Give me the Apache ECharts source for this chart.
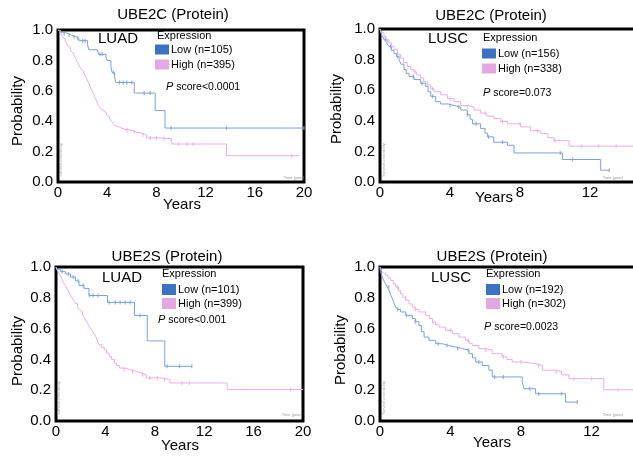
<!DOCTYPE html>
<html><head><meta charset="utf-8">
<script src="https://cdn.jsdelivr.net/npm/echarts/dist/echarts.min.js"></script>
<style>html,body{margin:0;padding:0;background:#fff}#c{width:633px;height:456px}</style>
</head><body><div id="c"></div>
<script>
// ---------- data ----------
const panelTitles = ['UBE2C (Protein)', 'UBE2C (Protein)', 'UBE2S (Protein)', 'UBE2S (Protein)'];
const cohorts = ['LUAD', 'LUSC', 'LUAD', 'LUSC'];
const lowNames = ['Low (n=105)', 'Low (n=156)', 'Low (n=101)', 'Low (n=192)'];
const highNames = ['High (n=395)', 'High (n=338)', 'High (n=399)', 'High (n=302)'];
const pScores = ['<0.0001', '=0.073', '<0.001', '=0.0023'];
const xMaxes = [20, 16, 20, 16];
const xInterval = 4;
const yInterval = 0.2;

const low1 = [[0,1],[0.2,0.985],[0.5,0.975],[0.9,0.965],[1.1,0.955],[1.5,0.945],[1.7,0.93],[2.4,0.905],[2.5,0.87],[3.2,0.86],[3.3,0.84],[3.9,0.82],[4.0,0.80],[4.3,0.76],[4.4,0.72],[4.6,0.69],[4.7,0.655],[6.2,0.585],[7.9,0.47],[8.7,0.355],[20,0.355]];
const high1 = [[0,1],[0.1,0.99],[0.2,0.98],[0.3,0.965],[0.4,0.95],[0.5,0.94],[0.6,0.925],[0.7,0.91],[0.8,0.895],[0.9,0.885],[1.0,0.87],[1.1,0.855],[1.2,0.845],[1.3,0.83],[1.4,0.815],[1.5,0.8],[1.6,0.785],[1.7,0.77],[1.8,0.755],[1.9,0.74],[2.0,0.73],[2.1,0.715],[2.2,0.7],[2.3,0.685],[2.4,0.665],[2.5,0.65],[2.6,0.63],[2.7,0.61],[2.8,0.595],[2.9,0.575],[3.0,0.555],[3.1,0.54],[3.2,0.52],[3.3,0.505],[3.4,0.49],[3.55,0.475],[3.7,0.465],[3.85,0.455],[4.0,0.44],[4.1,0.43],[4.2,0.415],[4.35,0.4],[4.5,0.385],[4.6,0.37],[4.75,0.36],[5.0,0.35],[5.3,0.345],[5.6,0.34],[6.0,0.33],[6.3,0.32],[6.9,0.31],[7.2,0.29],[8.3,0.285],[9.2,0.265],[9.3,0.25],[13.7,0.173],[19.6,0.173]];
const low2 = [[0,1],[0.04,0.975],[0.15,0.95],[0.23,0.93],[0.4,0.905],[0.51,0.885],[0.65,0.86],[0.8,0.84],[0.95,0.82],[1.09,0.80],[1.2,0.77],[1.37,0.735],[1.5,0.71],[1.66,0.69],[1.94,0.67],[2.32,0.645],[2.61,0.625],[2.75,0.59],[2.9,0.56],[3.18,0.525],[3.47,0.51],[3.9,0.5],[4.23,0.49],[4.61,0.47],[4.99,0.44],[5.15,0.41],[5.28,0.38],[5.75,0.35],[6.0,0.32],[6.13,0.295],[6.5,0.26],[7.28,0.24],[7.66,0.19],[10.42,0.147],[12.61,0.077],[13.1,0.077]];
const high2 = [[0,1],[0.1,0.975],[0.23,0.95],[0.35,0.93],[0.51,0.91],[0.65,0.885],[0.8,0.865],[1.0,0.835],[1.18,0.81],[1.35,0.78],[1.56,0.755],[1.75,0.735],[1.94,0.72],[2.1,0.7],[2.32,0.68],[2.5,0.655],[2.7,0.635],[2.9,0.61],[3.09,0.59],[3.47,0.57],[3.85,0.545],[4.23,0.525],[4.61,0.5],[4.99,0.49],[5.37,0.47],[5.75,0.45],[6.1,0.43],[6.51,0.415],[6.9,0.395],[7.28,0.38],[8.04,0.36],[8.61,0.335],[9.18,0.317],[9.6,0.29],[9.94,0.27],[10.8,0.234],[15.5,0.234]];
const low3 = [[0,1],[0.05,0.985],[0.35,0.97],[0.76,0.955],[1.17,0.935],[1.58,0.91],[1.86,0.88],[2.27,0.86],[2.67,0.815],[4.17,0.77],[6.36,0.685],[7.39,0.52],[8.81,0.355],[11.0,0.355]];
const high3 = [[0,1],[0.1,0.98],[0.2,0.965],[0.35,0.945],[0.5,0.92],[0.6,0.9],[0.76,0.88],[0.9,0.86],[1.05,0.835],[1.17,0.817],[1.3,0.8],[1.45,0.78],[1.58,0.763],[1.75,0.74],[1.9,0.72],[1.99,0.71],[2.15,0.69],[2.3,0.67],[2.4,0.656],[2.55,0.635],[2.7,0.615],[2.81,0.6],[2.95,0.58],[3.1,0.565],[3.22,0.548],[3.35,0.52],[3.49,0.495],[3.7,0.478],[3.9,0.462],[4.1,0.44],[4.31,0.42],[4.5,0.4],[4.72,0.376],[4.9,0.36],[5.13,0.344],[5.5,0.335],[5.95,0.323],[6.49,0.312],[6.9,0.3],[7.31,0.28],[8.5,0.27],[9.22,0.247],[13.86,0.204],[20,0.204]];
const low4 = [[0,1],[0.03,0.97],[0.13,0.935],[0.22,0.91],[0.32,0.89],[0.42,0.87],[0.51,0.85],[0.6,0.82],[0.7,0.794],[0.8,0.765],[0.89,0.74],[1.0,0.725],[1.17,0.708],[1.46,0.686],[1.83,0.665],[2.0,0.645],[2.21,0.62],[2.35,0.58],[2.5,0.545],[2.78,0.524],[3.16,0.502],[3.53,0.49],[3.91,0.48],[4.29,0.47],[4.67,0.46],[5.05,0.437],[5.25,0.41],[5.43,0.383],[5.8,0.36],[6.18,0.33],[6.37,0.286],[8.07,0.253],[8.17,0.21],[8.83,0.177],[10.53,0.123],[11.2,0.123]];
const high4 = [[0,1],[0.1,0.975],[0.2,0.96],[0.32,0.946],[0.45,0.93],[0.6,0.913],[0.75,0.89],[0.89,0.87],[1.05,0.845],[1.17,0.827],[1.3,0.805],[1.46,0.784],[1.65,0.76],[1.83,0.74],[2.0,0.725],[2.21,0.708],[2.59,0.686],[2.8,0.665],[2.97,0.643],[3.15,0.625],[3.35,0.61],[3.72,0.589],[4.1,0.567],[4.48,0.545],[4.86,0.524],[5.05,0.505],[5.24,0.49],[5.61,0.47],[5.99,0.46],[6.37,0.437],[6.94,0.416],[7.2,0.4],[7.5,0.383],[8.07,0.372],[8.83,0.36],[9.21,0.33],[9.96,0.32],[10.3,0.3],[10.72,0.275],[12.7,0.203],[15.5,0.203]];

// censoring times
const lowCens1 = [0.5,0.9,1.3,1.6,2.0,2.2,3.4,3.6,4.5,5.0,5.3,5.6,6.0,7.0,7.5,9.2,13.7,20];
const highCens1 = [5.6,6.2,6.9,7.5,8.0,8.6,9.8,10.5,11.0,19.0];
const lowCens2 = [0.3,0.6,1.0,1.9,2.4,3.0,4.0,4.5,5.0,5.5,6.2,7.0,10.3,11.0,13.1];
const highCens2 = [1.0,2.0,3.0,4.0,5.0,6.0,7.0,8.0,9.0,10.0,11.5,12.5,13.5,14.5];
const lowCens3 = [0.5,1.0,1.4,1.8,2.2,2.7,3.0,3.4,4.3,4.8,5.2,5.6,6.0,6.8,9.0,10.0,11.0];
const highCens3 = [5.5,6.2,7.0,7.6,8.2,8.8,10.2,10.8,19.0];
const lowCens4 = [0.5,1.0,1.5,2.0,3.3,3.8,4.4,5.0,5.6,6.5,7.0,8.5,9.0,10.3,11.2];
const highCens4 = [1.0,2.0,3.0,4.0,5.0,6.0,7.0,8.0,9.0,10.0,11.0,12.0,13.5,14.5];

// ---------- styling / layout ----------
const FONT = '"Liberation Sans", Arial, Helvetica, sans-serif';
const LOW_LINE = '#7aa2da', HIGH_LINE = '#e9aee9';
const LOW_KEY = '#3b72c2', HIGH_KEY = '#e3a7e1';
const lows = [low1, low2, low3, low4];
const highs = [high1, high2, high3, high4];
const lowCens = [lowCens1, lowCens2, lowCens3, lowCens4];
const highCens = [highCens1, highCens2, highCens3, highCens4];

const layout = [
  {grid:{left:58, top:30, width:246, height:152}, title:[173,15], prob:[18,111], years:[182,205], cohort:[98,39], expr:[157,36], legend:[155,44,10,4], p:[166,87], surv:[61,160], time:[294,178]},
  {grid:{left:380, top:29, width:280, height:153}, title:[491,16], prob:[337,109], years:[494,198], cohort:[428,39], expr:[483,38], legend:[482,48,10,4], p:[483,93], surv:[384,160], time:[613,178]},
  {grid:{left:56, top:267, width:247, height:154}, title:[167,257], prob:[18,351], years:[180,446], cohort:[102,278], expr:[162,274], legend:[162,284,11,3], p:[158,320], surv:[59,398], time:[292,415]},
  {grid:{left:380, top:267, width:282, height:154}, title:[492,257], prob:[341,350], years:[492,443], cohort:[431,278], expr:[486,274], legend:[486,284,11,3], p:[484,327], surv:[384,398], time:[613,415]}
];

function stepAt(curve, t) {
  let v = curve[0][1];
  for (const [x, y] of curve) { if (x <= t) v = y; }
  return v;
}

const grids = [], xAxes = [], yAxes = [], series = [], legends = [], graphics = [];
function txt(x, y, text, size, extra) {
  return Object.assign({type:'text', x:x, y:y, silent:true,
    style:{text:text, font:size + 'px ' + FONT, fill:'#000', align:'left', verticalAlign:'middle', textAlign:'left', textVerticalAlign:'middle'}}, extra || {});
}

layout.forEach((L, i) => {
  grids.push(Object.assign({show:true, borderColor:'#000', borderWidth:3, backgroundColor:'transparent', containLabel:false, outerBoundsMode:'none'}, L.grid));
  xAxes.push({type:'value', gridIndex:i, min:0, max:xMaxes[i], interval:xInterval,
    axisLine:{show:false}, axisTick:{show:false}, splitLine:{show:false},
    axisLabel:{fontSize:15, color:'#000', fontFamily:FONT, margin:3}});
  yAxes.push({type:'value', gridIndex:i, min:0, max:1, interval:yInterval,
    axisLine:{show:false}, axisTick:{show:false}, splitLine:{show:false},
    axisLabel:{fontSize:15, color:'#000', fontFamily:FONT, margin:5, formatter:v => v.toFixed(1)}});
  series.push({type:'line', name:lowNames[i], xAxisIndex:i, yAxisIndex:i, step:'end', data:lows[i],
    showSymbol:false, lineStyle:{color:LOW_LINE, width:1}, itemStyle:{color:LOW_KEY}, z:3});
  series.push({type:'line', name:highNames[i], xAxisIndex:i, yAxisIndex:i, step:'end', data:highs[i],
    showSymbol:false, lineStyle:{color:HIGH_LINE, width:1}, itemStyle:{color:HIGH_KEY}, z:3});
  series.push({type:'scatter', xAxisIndex:i, yAxisIndex:i, symbol:'rect', symbolSize:[1.2,4],
    itemStyle:{color:LOW_LINE}, data:lowCens[i].map(t => [t, stepAt(lows[i], t)]), z:4, silent:true});
  series.push({type:'scatter', xAxisIndex:i, yAxisIndex:i, symbol:'rect', symbolSize:[1.2,4],
    itemStyle:{color:HIGH_LINE}, data:highCens[i].map(t => [t, stepAt(highs[i], t)]), z:4, silent:true});
  const lg = L.legend;
  legends.push({left:lg[0], top:lg[1], orient:'vertical', icon:'rect', itemWidth:14, itemHeight:lg[2], itemGap:lg[3],
    padding:0, selectedMode:false,
    data:[{name:lowNames[i], itemStyle:{color:LOW_KEY}}, {name:highNames[i], itemStyle:{color:HIGH_KEY}}],
    textStyle:{fontSize:11, color:'#000', fontFamily:FONT, padding:[0,0,0,-3]}});
  const t = txt(L.title[0], L.title[1], panelTitles[i], 15);
  t.style.align = 'center'; t.style.textAlign = 'center';
  graphics.push(t);
  const yr = txt(L.years[0], L.years[1], 'Years', 15);
  yr.style.align = 'center'; yr.style.textAlign = 'center';
  graphics.push(yr);
  const pr = txt(L.prob[0], L.prob[1], 'Probability', 15, {rotation:Math.PI/2});
  pr.style.align = 'center'; pr.style.textAlign = 'center';
  graphics.push(pr);
  graphics.push(txt(L.cohort[0], L.cohort[1], cohorts[i], 15));
  graphics.push(txt(L.expr[0], L.expr[1], 'Expression', 11));
  const ps = txt(L.p[0], L.p[1], '{i|P} score' + pScores[i], 10.5);
  ps.style.rich = {i:{fontStyle:'italic', fontSize:11, fontFamily:FONT, fill:'#000'}};
  graphics.push(ps);
  const sv = txt(L.surv[0], L.surv[1], 'Survival probability', 4, {rotation:Math.PI/2});
  sv.style.fill = '#aaa'; sv.style.align = 'center'; sv.style.textAlign = 'center';
  graphics.push(sv);
  const tm = txt(L.time[0], L.time[1], 'Time (year)', 4);
  tm.style.fill = '#999'; tm.style.align = 'center'; tm.style.textAlign = 'center';
  graphics.push(tm);
});

const chart = echarts.init(document.getElementById('c'), null, {renderer:'canvas'});
chart.setOption({
  animation:false,
  backgroundColor:'#fff',
  textStyle:{fontFamily:FONT},
  grid:grids, xAxis:xAxes, yAxis:yAxes, series:series, legend:legends, graphic:graphics
});
</script>
</body></html>
